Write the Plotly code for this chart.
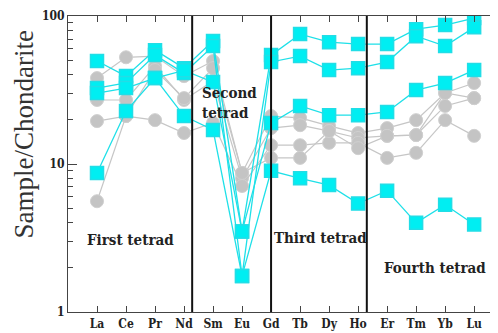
import numpy as np
import plotly.graph_objects as go

elements = ["La", "Ce", "Pr", "Nd", "Sm", "Eu", "Gd", "Tb", "Dy", "Ho", "Er", "Tm", "Yb", "Lu"]

cyan_1 = [49.7, 39.3, 58.9, 44.5, 67.8, 3.5, 54.5, 75.6, 66.7, 64.7, 64.7, 81.7, 87.0, 97.0]
cyan_2 = [32.6, 35.3, 54.5, 41.2, 62.7, 1.75, 49.0, 53.7, 43.2, 44.5, 48.9, 73.2, 62.7, 84.0]
cyan_3 = [30.2, 32.6, 38.1, 43.0, 35.8, 3.5, 18.9, 24.7, 21.4, 21.4, 22.5, 31.6, 35.3, 43.2]
cyan_4 = [8.7, 22.8, 38.1, 21.1, 17.0, 1.75, 9.0, 8.0, 7.2, 5.4, 6.6, 4.0, 5.3, 3.9]

gray_1 = [38.1, 52.7, 53.7, 39.3, 49.7, 8.7, 21.1, 20.5, 18.1, 16.2, 17.5, 19.8, 30.2, 35.3]
gray_2 = [27.1, 27.1, 45.9, 27.1, 36.4, 8.0, 17.5, 18.3, 16.7, 15.0, 15.5, 15.7, 24.7, 27.9]
gray_3 = [19.5, 21.1, 19.8, 16.2, 19.0, 7.1, 13.4, 13.4, 13.9, 13.9, 11.0, 11.9, 19.8, 15.5]
gray_4 = [5.6, 21.1, 43.2, 27.9, 44.5, 8.7, 11.0, 11.0, 16.7, 12.8, 15.5, 15.7, 30.2, 27.9]

y_ticks = [1, 10, 100]
dividers = [3.28, 6.0, 9.3]
labels = [("First tetrad", 1.15, 3.07), ("Second<br>tetrad", 4.55, 26.0),
          ("Third tetrad", 7.69, 3.16), ("Fourth tetrad", 11.65, 1.98)]

x = list(range(len(elements)))
fig = go.Figure()

for s in [gray_1, gray_2, gray_3, gray_4]:
    fig.add_trace(go.Scatter(
        x=x, y=s, mode="lines+markers",
        line=dict(color="#c6c6c6", width=1.2),
        marker=dict(symbol="circle", size=13, color="#c4c4c4",
                    line=dict(color="#d0d0d0", width=1)),
        showlegend=False))

for s in [cyan_1, cyan_2, cyan_3, cyan_4]:
    fig.add_trace(go.Scatter(
        x=x, y=s, mode="lines+markers",
        line=dict(color="#1ee0e8", width=1.3),
        marker=dict(symbol="square", size=13, color="#00eef2",
                    line=dict(color="#22dde6", width=1.5)),
        showlegend=False))

for d in dividers:
    fig.add_shape(type="line", x0=d, x1=d, y0=0, y1=1, xref="x", yref="paper",
                  line=dict(color="#111111", width=2))

serif = "Liberation Serif, serif"
bold_serif = "DejaVu Serif Condensed, DejaVu Serif, serif"
for txt, lx, ly in labels:
    fig.add_annotation(x=lx, y=np.log10(ly), text="<b>" + txt + "</b>", showarrow=False,
                       font=dict(family=bold_serif, size=15, color="#222222"),
                       align="left")

fig.add_annotation(xref="paper", yref="paper", x=-0.101, xanchor="center", y=0.6,
                   text="Sample/Chondarite", textangle=-90, showarrow=False,
                   font=dict(family=serif, size=27, color="#333333"))

fig.update_xaxes(range=[-1, 13.96], tickvals=x, ticktext=["<b>%s</b>" % e for e in elements],
                 ticks="inside", ticklen=6, tickcolor="#444444", showline=True,
                 linecolor="#444444", linewidth=1.2, mirror="ticks", showgrid=False,
                 zeroline=False, automargin=False,
                 tickfont=dict(family=bold_serif, size=12, color="#222222"))
fig.update_yaxes(type="log", range=[-0.001, 2.001], tickvals=y_ticks,
                 ticktext=["<b>%d</b>" % v for v in y_ticks], ticklabeloverflow="allow",
                 ticks="inside", ticklen=9, tickcolor="#444444", showline=True,
                 linecolor="#444444", linewidth=1.2, mirror="ticks", showgrid=False,
                 automargin=False,
                 minor=dict(ticks="inside", ticklen=5, dtick="D1", tickcolor="#444444", showgrid=False),
                 tickfont=dict(family=bold_serif, size=12, color="#222222"))

fig.update_layout(width=498, height=333, margin=dict(l=60, r=4, t=8, b=29),
                  paper_bgcolor="white", plot_bgcolor="white")
fig.write_html("out.html")
